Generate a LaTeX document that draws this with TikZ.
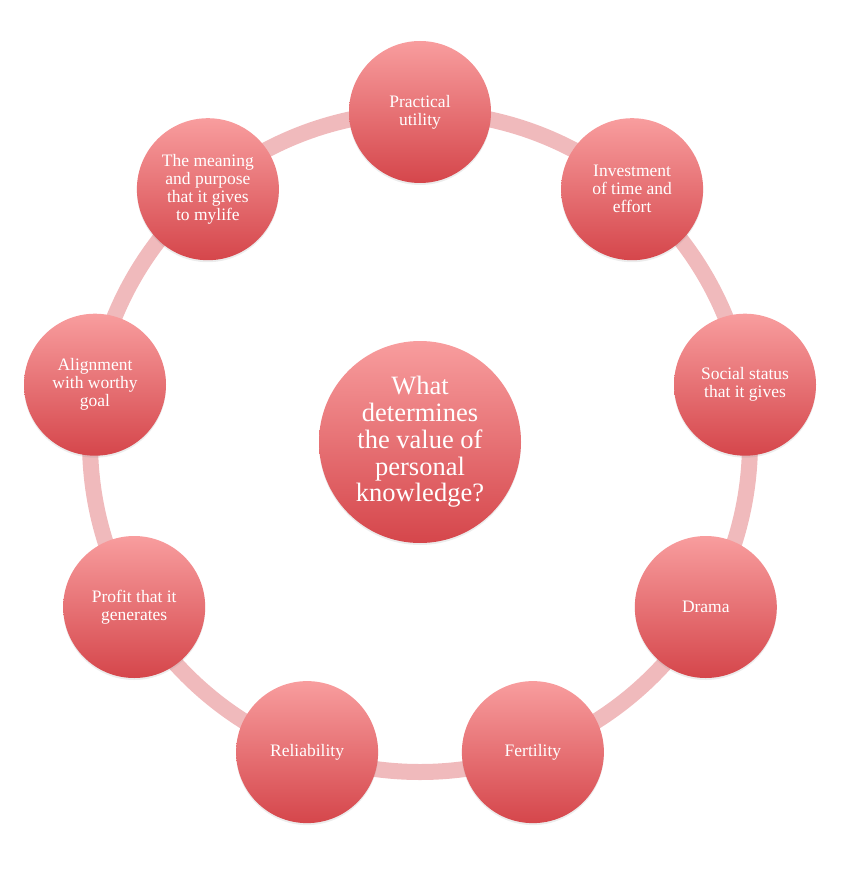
\documentclass[tikz,border=0pt]{standalone}
\usepackage{fontspec}
\setmainfont{Liberation Serif}
\usetikzlibrary{shadows}
\definecolor{ringc}{HTML}{F0BABC}
\definecolor{topc}{HTML}{F89D9E}
\definecolor{botc}{HTML}{D5464B}
\tikzset{
  bubble/.style={circle, minimum size=142pt, inner sep=0pt, align=center,
    top color=topc, bottom color=botc, draw=none, text=white,
    font=\fontsize{17.5}{18}\selectfont,
    drop shadow={opacity=0.15, shadow xshift=0pt, shadow yshift=-2pt}},
  hub/.style={bubble, minimum size=202pt, font=\fontsize{26.5}{26.8}\selectfont},
  ring/.style={draw=ringc, line width=16pt}
}
\begin{document}
\begin{tikzpicture}[x=1pt,y=-1pt]
\useasboundingbox (0,0) rectangle (840,869);
\coordinate (c) at (420,442);
\draw[ring] (c) circle[radius=330];
\node[hub] (center) at (c) {What\\determines\\the value of\\personal\\knowledge?};
\node[bubble] (n1) at (420,112) {Practical\\utility};
\node[bubble] (n2) at (632.1,189.2) {Investment\\of time and\\effort};
\node[bubble] (n3) at (745.0,384.7) {Social status\\that it gives};
\node[bubble] (n4) at (705.8,607) {Drama};
\node[bubble] (n5) at (532.9,752.1) {Fertility};
\node[bubble] (n6) at (307.1,752.1) {Reliability};
\node[bubble] (n7) at (134.2,607) {Profit that it\\generates};
\node[bubble] (n8) at (95.0,384.7) {Alignment\\with worthy\\goal};
\node[bubble] (n9) at (207.9,189.2) {The meaning\\and purpose\\that it gives\\to mylife};
\end{tikzpicture}
\end{document}
